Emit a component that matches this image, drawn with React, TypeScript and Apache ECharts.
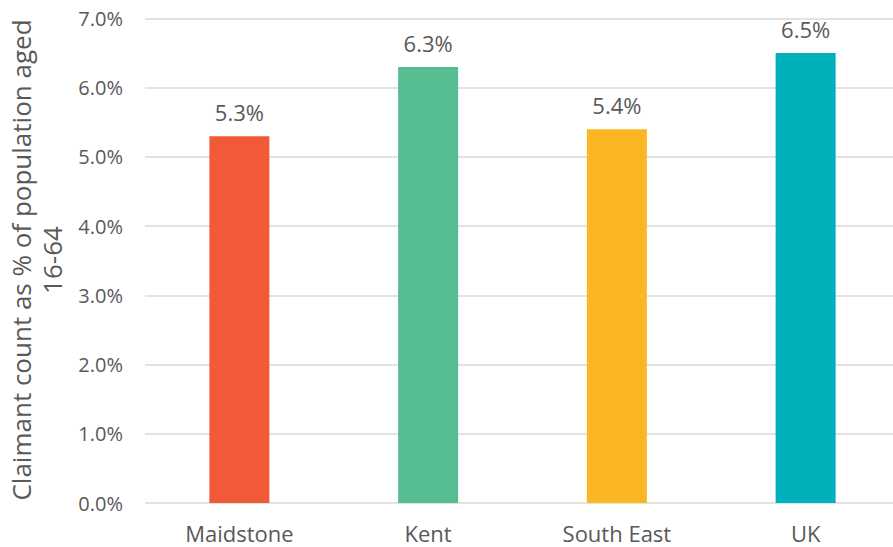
import React, { useEffect, useRef } from "react";
import * as echarts from "echarts";

const categories = ["Maidstone", "Kent", "South East", "UK"];
const values = [5.3, 6.3, 5.4, 6.5];
const barColors = ["#F05A38", "#55BD8F", "#FBB623", "#00B0BA"];
const yTitleLines = ["Claimant count as % of population aged", "16-64"];

const FONT = "'Open Sans', sans-serif";
const TEXT = "#595959";

export default function App() {
  const ref = useRef<HTMLDivElement>(null);
  useEffect(() => {
    if (!ref.current) return;
    const chart = echarts.init(ref.current, undefined, { renderer: "svg" });
    chart.setOption({
      animation: false,
      grid: { left: 145, width: 755, top: 18.5, bottom: 44, containLabel: false, outerBoundsMode: "none" },
      xAxis: {
        type: "category",
        data: categories,
        axisLine: { show: false },
        axisTick: { show: false },
        axisLabel: { color: TEXT, fontFamily: FONT, fontSize: 22, margin: 19 },
      },
      yAxis: {
        type: "value",
        min: 0,
        max: 7,
        interval: 1,
        axisLine: { show: false },
        axisTick: { show: false },
        splitLine: { lineStyle: { color: "#D9D9D9", width: 1.5 } },
        axisLabel: {
          color: TEXT,
          fontFamily: FONT,
          fontSize: 20,
          margin: 22,
          formatter: (v: number) => v.toFixed(1) + "%",
        },
      },
      graphic: [
        {
          type: "text",
          x: 36,
          y: 260,
          rotation: Math.PI / 2,
          style: {
            text: yTitleLines.join("\n"),
            fill: TEXT,
            font: `26px ${FONT}`,
            lineHeight: 31,
            align: "center",
            verticalAlign: "middle",
          },
        },
      ],
      series: [
        {
          type: "bar",
          barWidth: 60,
          data: values.map((v, i) => ({ value: v, itemStyle: { color: barColors[i] } })),
          label: {
            show: true,
            position: "top",
            distance: 13,
            color: TEXT,
            fontFamily: FONT,
            fontSize: 22,
            formatter: (p: any) => p.value.toFixed(1) + "%",
          },
        },
      ],
    });
    return () => chart.dispose();
  }, []);
  return <div ref={ref} style={{ width: 893, height: 547, position: "absolute", left: 0, top: 0, background: "#fff", overflow: "hidden" }} />;
}
